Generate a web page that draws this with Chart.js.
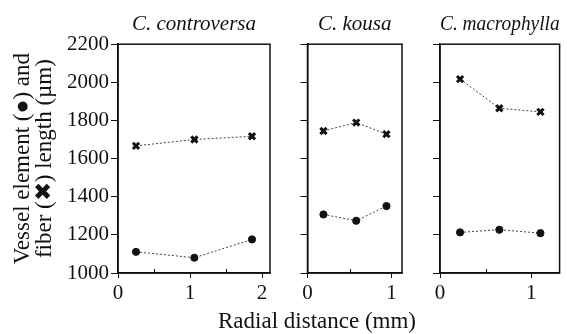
<!DOCTYPE html>
<html>
<head>
<meta charset="utf-8">
<script src="https://cdn.jsdelivr.net/npm/chart.js@4"></script>
<style>
body { margin: 0; background: #fff; }
#wrap { position: relative; width: 567px; height: 334px; background: #fff; }
#wrap canvas { position: absolute; top: 0; }
#xtitle { position: absolute; left: 117px; width: 400px; top: 309px; text-align: center;
  font: 23px "Liberation Serif", serif; line-height: 24px; color: #111; }
</style>
</head>
<body>
<div id="wrap">
<canvas id="c1" width="280" height="334" style="left:0px"></canvas>
<canvas id="c2" width="130" height="334" style="left:280px"></canvas>
<canvas id="c3" width="157" height="334" style="left:410px"></canvas>
<div id="xtitle">Radial distance (mm)</div>
</div>
<script>
// radial distance (mm) of each sample, per species
var controversaX = [0.25, 1.06, 1.86];
var kousaX = [0.19, 0.58, 0.94];
var macrophyllaX = [0.22, 0.65, 1.10];

// vessel element length (um)
var controversaVessel = [1111, 1080, 1176];
var kousaVessel = [1307, 1274, 1351];
var macrophyllaVessel = [1213, 1227, 1209];

// fiber length (um)
var controversaFiber = [1667, 1700, 1717];
var kousaFiber = [1745, 1789, 1728];
var macrophyllaFiber = [2017, 1864, 1845];

var yTicks = [1000, 1200, 1400, 1600, 1800, 2000, 2200];
var xTicksWide = [0, 1, 2];
var xTicksNarrow = [0, 1];
var xMinorWide = [0.5, 1.5];
var xMinorNarrow = [0.5];

var FONT = "'Liberation Serif', serif";
var INK = "#111";

var framePlugin = {
	id: "frame",
	afterDraw: function(chart) {
		var a = chart.chartArea;
		var ctx = chart.ctx;
		ctx.save();
		ctx.strokeStyle = INK;
		ctx.lineWidth = 1.5;
		ctx.strokeRect(a.left, a.top, a.right - a.left, a.bottom - a.top);
		// small inward minor ticks on the x axis
		var minor = chart.options.plugins.frame.minor || [];
		var sx = chart.scales.x;
		ctx.lineWidth = 1;
		ctx.beginPath();
		for (var i = 0; i < minor.length; ++i) {
			var px = Math.round(sx.getPixelForValue(minor[i])) + 0.5;
			ctx.moveTo(px, a.bottom);
			ctx.lineTo(px, a.bottom - 4);
		}
		ctx.stroke();
		ctx.restore();
	}
};

function toPoints(xs, ys) {
	var pts = [];
	for (var i = 0; i < xs.length; ++i) {
		pts.push({ x: xs[i], y: ys[i] });
	}
	return pts;
}

function plain(value) {
	return String(value);
}

function drawPanel(id, title, xs, vessel, fiber, xMax, xTicks, xMinor, yWidth, padRight, first) {

	var series = function(data, style, radius, bw) {
		return {
			data: data,
			showLine: true,
			borderColor: "#444",
			borderWidth: 1,
			borderDash: [2, 2],
			pointStyle: style,
			pointRadius: radius,
			pointBorderWidth: bw,
			pointBackgroundColor: INK,
			pointBorderColor: INK
		};
	};

	new Chart(document.getElementById(id), {
		type: "scatter",
		data: {
			datasets: [
				series(toPoints(xs, vessel), "circle", 3.6, 1),
				series(toPoints(xs, fiber), "crossRot", 4.4, 3)
			]
		},
		options: {
			responsive: false,
			animation: false,
			layout: { padding: { left: 0, right: padRight, top: 0, bottom: 0 } },
			plugins: {
				legend: { display: false },
				tooltip: { enabled: false },
				frame: { minor: xMinor },
				title: {
					display: true,
					text: title,
					fullSize: false,
					color: INK,
					font: { family: FONT, size: 21, style: "italic", weight: "normal" },
					padding: { top: 12, bottom: 7 }
				}
			},
			scales: {
				x: {
					type: "linear",
					min: 0,
					max: xMax,
					afterBuildTicks: function(scale) {
						scale.ticks = xTicks.map(function(v) { return { value: v }; });
					},
					afterFit: function(scale) { scale.height = 61; },
					border: { display: true, color: INK, width: 1.5 },
					grid: { drawOnChartArea: false, drawTicks: true, tickLength: 5, color: INK, tickColor: INK },
					ticks: { color: INK, padding: 3, maxRotation: 0, callback: plain, font: { family: FONT, size: 21 } }
				},
				y: {
					type: "linear",
					min: 1000,
					max: 2200,
					afterBuildTicks: function(scale) {
						scale.ticks = yTicks.map(function(v) { return { value: v }; });
					},
					afterFit: function(scale) { scale.width = yWidth; },
					border: { display: true, color: INK, width: 1.5 },
					grid: { drawOnChartArea: false, drawTicks: true, tickLength: 7, color: INK, tickColor: INK },
					ticks: { display: first, color: INK, padding: 2, callback: plain, font: { family: FONT, size: 21 } },
					title: {
						display: first,
						text: ["Vessel element (\u25CF) and", "fiber (\u2716) length (\u00B5m)"],
						color: INK,
						font: { family: FONT, size: 23, lineHeight: 0.96 },
						padding: { top: 12, bottom: 0 }
					}
				}
			}
		},
		plugins: [framePlugin]
	});
}

drawPanel("c1", "C. controversa", controversaX, controversaVessel, controversaFiber, 2.11, xTicksWide, xMinorWide, 118, 10, true);
drawPanel("c2", "C. kousa", kousaX, kousaVessel, kousaFiber, 1.125, xTicksNarrow, xMinorNarrow, 27.5, 8, false);
drawPanel("c3", "C. macrophylla", macrophyllaX, macrophyllaVessel, macrophyllaFiber, 1.31, xTicksNarrow, xMinorNarrow, 30, 4, false);
</script>
</body>
</html>
